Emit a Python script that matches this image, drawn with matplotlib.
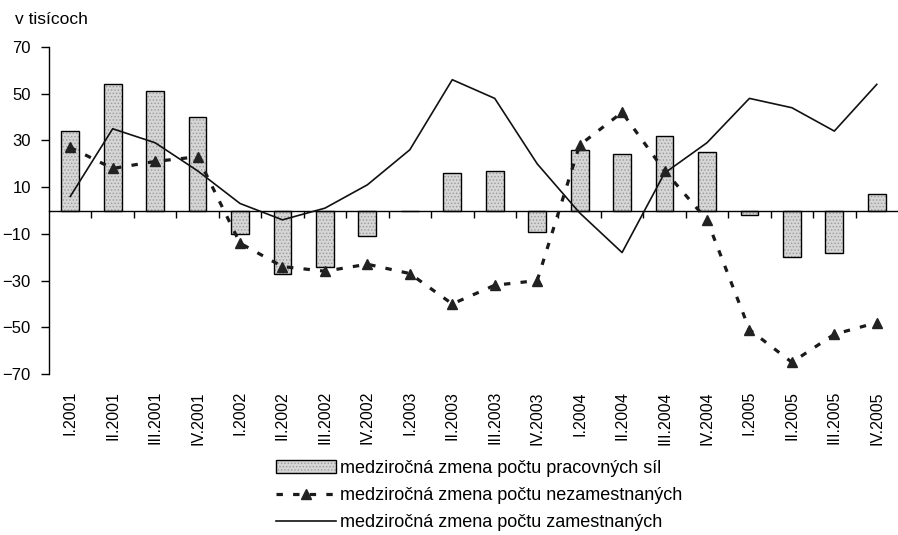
import matplotlib
matplotlib.use("Agg")
import matplotlib.pyplot as plt
from matplotlib.legend_handler import HandlerTuple

plt.rcParams['font.family'] = ['Liberation Sans', 'DejaVu Sans']
plt.rcParams['hatch.linewidth'] = 0.6

quarters = ["I.2001", "II.2001", "III.2001", "IV.2001",
            "I.2002", "II.2002", "III.2002", "IV.2002",
            "I.2003", "II.2003", "III.2003", "IV.2003",
            "I.2004", "II.2004", "III.2004", "IV.2004",
            "I.2005", "II.2005", "III.2005", "IV.2005"]

# medzirocna zmena poctu pracovnych sil (bars)
pracovne_sily = [34, 54, 51, 40, -10, -27, -24, -11, 0, 16,
                 17, -9, 26, 24, 32, 25, -2, -20, -18, 7]
# medzirocna zmena poctu nezamestnanych (dashed, triangles)
nezamestnani = [27, 18, 21, 23, -14, -24, -26, -23, -27, -40,
                -32, -30, 28, 42, 17, -4, -51, -65, -53, -48]
# medzirocna zmena poctu zamestnanych (solid)
zamestnani = [6, 35, 29, 17, 3, -4, 1, 11, 26, 56,
              48, 20, -1, -18, 16, 29, 48, 44, 34, 54]

label_bars = "medziročná zmena počtu pracovných síl"
label_nez = "medziročná zmena počtu nezamestnaných"
label_zam = "medziročná zmena počtu zamestnaných"

fig = plt.figure(figsize=(8.98, 5.35), dpi=100)
ax = fig.add_axes([49 / 898, 1 - 374 / 535, 1 - 49 / 898, (374 - 47) / 535])

x = list(range(len(quarters)))

# bars: dotted gray fill, then black outline
fill = ax.bar(x, pracovne_sily, width=0.42, color='#d6d6d6', hatch='.....',
              edgecolor='#9a9a9a', linewidth=0, zorder=2)
outline = ax.bar(x, pracovne_sily, width=0.42, fill=False,
                 edgecolor='black', linewidth=1.0, zorder=3)

zam_line, = ax.plot(x, zamestnani, color='#111111', linewidth=1.2, zorder=4)
nez_line, = ax.plot(x, nezamestnani, color='#1a1a1a', linewidth=2.3,
                    linestyle=(0, (2, 3.2)), marker='^', markersize=7,
                    markerfacecolor='#222222', markeredgecolor='#222222', zorder=5)

ax.set_xlim(-0.5, len(quarters) - 0.5)
ax.set_ylim(-70, 70)
ax.set_yticks(range(-70, 71, 20))
ax.tick_params(axis='y', direction='out', length=6, width=1, pad=7, labelsize=12)

ax.spines['top'].set_visible(False)
ax.spines['right'].set_visible(False)
ax.spines['bottom'].set_position(('data', 0))
ax.spines['left'].set_linewidth(1.0)
ax.spines['bottom'].set_linewidth(1.0)

# tick marks between quarters on the zero line, labels at the bottom
ax.set_xticks([i + 0.5 for i in x[:-1]])
ax.set_xticklabels([])
ax.tick_params(axis='x', direction='out', length=5, width=1)
for i, q in enumerate(quarters):
    ax.text(i, -0.052, q, transform=ax.get_xaxis_transform(), rotation=90,
            ha='center', va='top', fontsize=11.5)

fig.text(15 / 898, 1 - 20 / 535, "v tisícoch", fontsize=12.5, ha='left', va='center')

fig.legend([(fill[0], outline[0]), nez_line, zam_line],
           [label_bars, label_nez, label_zam],
           handler_map={tuple: HandlerTuple(ndivide=1, pad=0)},
           loc='upper left', bbox_to_anchor=(276 / 898, 1 - 460 / 535),
           bbox_transform=fig.transFigure, frameon=False, fontsize=13,
           borderpad=0, borderaxespad=0, handlelength=3.35, handletextpad=0.2,
           labelspacing=0.56, numpoints=1)

fig.savefig("out.png", dpi=100)
